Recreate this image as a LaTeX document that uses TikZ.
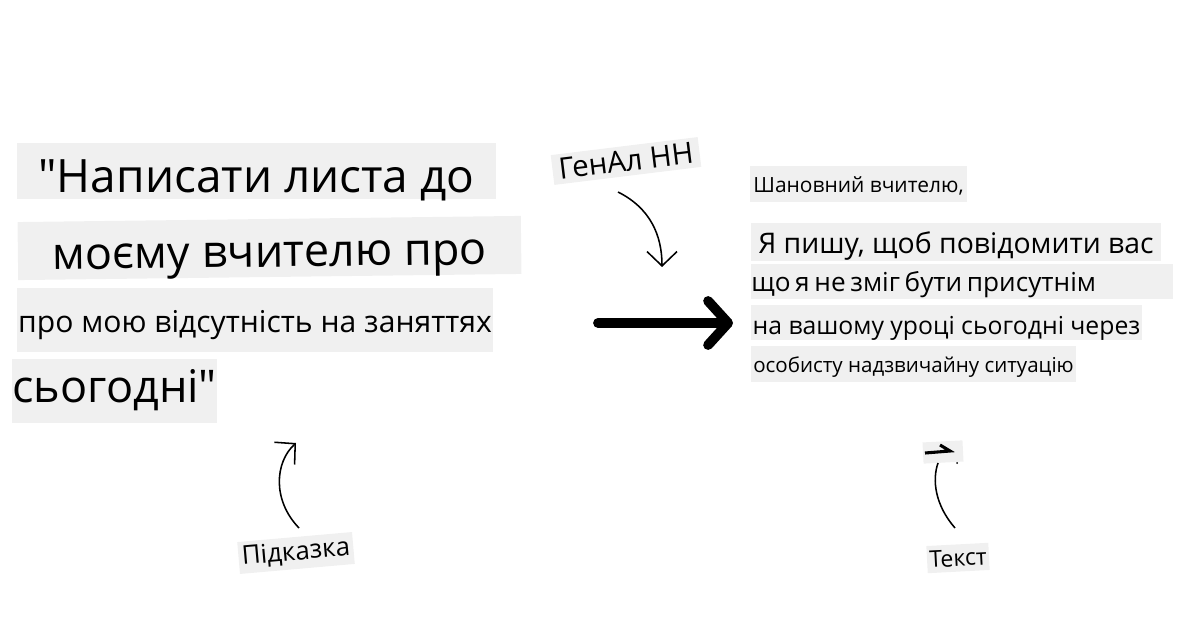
\documentclass[tikz,border=0pt]{standalone}
\usepackage{fontspec}
\setmainfont{Open Sans}[Ligatures=TeXOff]
\usetikzlibrary{arrows.meta}
\definecolor{boxgrey}{RGB}{240,240,240}
\newcommand\fsz[1]{\fontsize{#1pt}{#1pt}\selectfont}
\tikzset{
  greybox/.style={fill=boxgrey, inner sep=0pt},
  baseshift/.style={text height=#1, text depth=0pt},
  curvearrow/.style={line width=1.1pt, -{Straight Barb[length=0.36cm, width=0.75cm]}},
  bigarrow/.style={line width=7pt, line cap=round, -{Straight Barb[length=0.5cm, width=1.1cm, line join=round, line cap=round]}},
}

\begin{document}
\begin{tikzpicture}[x=0.025cm, y=-0.025cm]
			%%%%% START %%%%%
			\useasboundingbox (0,0) rectangle (1200,628);
			
			% prompt, left
			\node[greybox, baseshift=1.05cm, minimum width=11.98cm, minimum height=1.4cm] (prompta) at (256.5,171) {\fsz{32.7}"Написати листа до};
			\node[greybox, baseshift=0.95cm, rotate=0.7, minimum width=12.58cm, minimum height=1.45cm] (promptb) at (269.5,248) {\fsz{32}моєму вчителю про};
			\node[greybox, baseshift=0.6cm, minimum width=11.9cm, minimum height=1.6cm] (promptc) at (255,320) {\fsz{21.4}про мою відсутність на заняттях};
			\node[greybox, baseshift=0.55cm, minimum width=5.03cm, minimum height=1.6cm] (promptd) at (114.5,391) {\fsz{32}сьогодні"};
			
			% generated text, right
			\node[greybox, baseshift=0.45cm, minimum width=5.43cm, minimum height=0.9cm] (lettera) at (858.5,184) {\fsz{14.9}Шановний вчителю,};
			\node[greybox, baseshift=0.55cm, minimum width=10.25cm, minimum height=0.95cm] (letterb) at (956,242) {\fsz{20.2}Я пишу, щоб повідомити вас};
			\node[greybox, baseshift=0.475cm, anchor=west, text width=10.55cm, minimum height=0.875cm, align=left] (letterc) at (751,281.5) {\fsz{18.6}що я не зміг бути присутнім};
			\node[greybox, baseshift=0.575cm, minimum width=9.78cm, minimum height=0.875cm] (letterd) at (946.5,322.5) {\fsz{17.6}на вашому уроці сьогодні через};
			\node[greybox, baseshift=0.4cm, minimum width=8.13cm, minimum height=0.9cm] (lettere) at (913.5,364) {\fsz{14.6}особисту надзвичайну ситуацію};
			
			% labels
			\node[greybox, rotate=7, minimum width=3.7cm, minimum height=0.75cm] (genai) at (626,161) {\fsz{21}ГенАл НН};
			\node[greybox, rotate=5, minimum width=2.88cm, minimum height=0.8cm] (hint) at (296,553) {\fsz{18.4}Підказка};
			\node[greybox, rotate=3, minimum width=1.55cm, minimum height=0.68cm] (output) at (958,558) {\fsz{16.4}Текст};
			\node[greybox, rotate=3, minimum width=1cm, minimum height=0.53cm] (stub) at (943,452) {};
			
			\coordinate (genaitail) at (618,192);
			\coordinate (genaihead) at (662,267);
			\coordinate (hinttail) at (299,528);
			\coordinate (hinthead) at (296,443);
			\coordinate (outtail) at (955,528);
			\coordinate (outhead) at (938,463);
			\coordinate (bigtail) at (598,323);
			\coordinate (bighead) at (733,323);
			
			\draw[curvearrow] (genaitail) .. controls (650,208) and (662,235) .. (genaihead);
			\draw[curvearrow] (hinttail) .. controls (272,500) and (275,462) .. (hinthead);
			\draw[line width=1.1pt] (outtail) .. controls (935,505) and (932,480) .. (outhead);
			\draw[line width=2.2pt] (925,453) -- (950,451) -- (940,445);
			\fill (957,463) circle (1);
			
			\draw[bigarrow] (bigtail) -- (bighead);
			%%%%% END %%%%%
		\end{tikzpicture}
\end{document}
